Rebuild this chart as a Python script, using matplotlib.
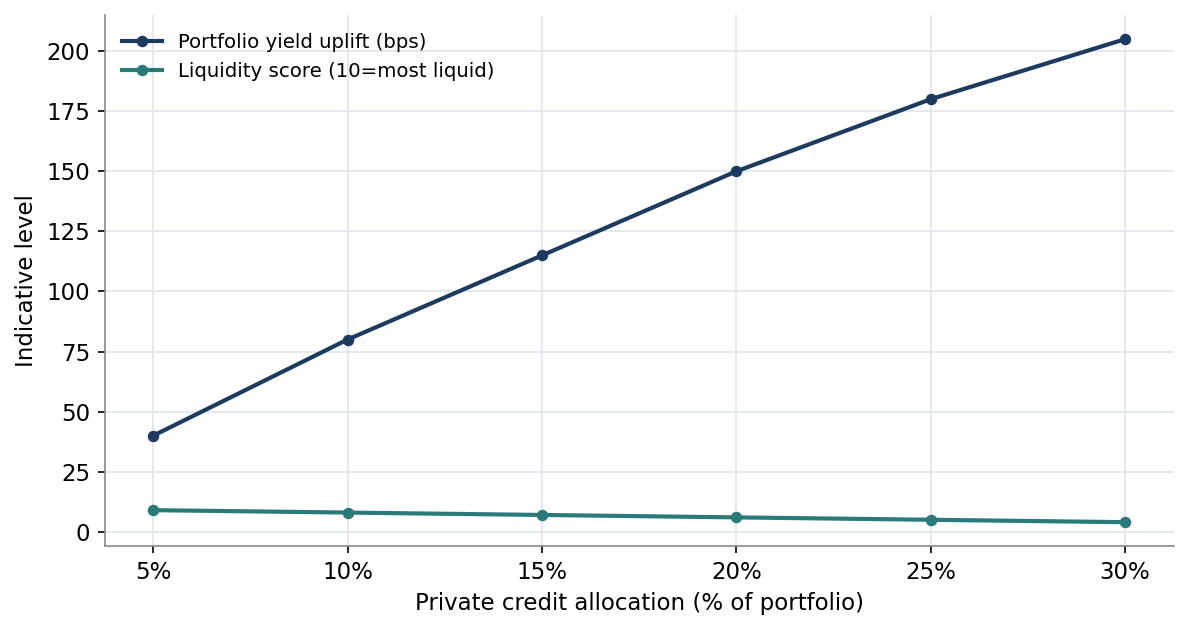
import matplotlib
matplotlib.use("Agg")
import matplotlib.pyplot as plt

allocation = ["5%", "10%", "15%", "20%", "25%", "30%"]
yield_uplift = [40, 80, 115, 150, 180, 205]
liquidity = [9, 8, 7, 6, 5, 4]

plt.rcParams["font.size"] = 11

fig, ax = plt.subplots(figsize=(7.927, 4.2), dpi=150)
x = range(len(allocation))
ax.plot(x, yield_uplift, color="#1f3a5f", lw=2, marker="o", ms=4.5,
        label="Portfolio yield uplift (bps)", zorder=3)
ax.plot(x, liquidity, color="#2a7a7a", lw=2, marker="o", ms=4.5,
        label="Liquidity score (10=most liquid)", zorder=3)

ax.set_xticks(list(x))
ax.set_xticklabels(allocation)
ax.set_yticks(range(0, 201, 25))
ax.set_ylim(-6, 215)
ax.set_xlim(-0.25, 5.25)
ax.grid(True, color="#e3e7ee", lw=0.9)
ax.set_axisbelow(True)
for s in ["top", "right"]:
    ax.spines[s].set_visible(False)
for s in ["left", "bottom"]:
    ax.spines[s].set_color("#888888")
ax.set_xlabel("Private credit allocation (% of portfolio)")
ax.set_ylabel("Indicative level")
ax.legend(loc="upper left", frameon=False, fontsize=9.5)

fig.subplots_adjust(left=0.088, right=0.987, top=0.976, bottom=0.133)
fig.savefig("out.png", dpi=150)
